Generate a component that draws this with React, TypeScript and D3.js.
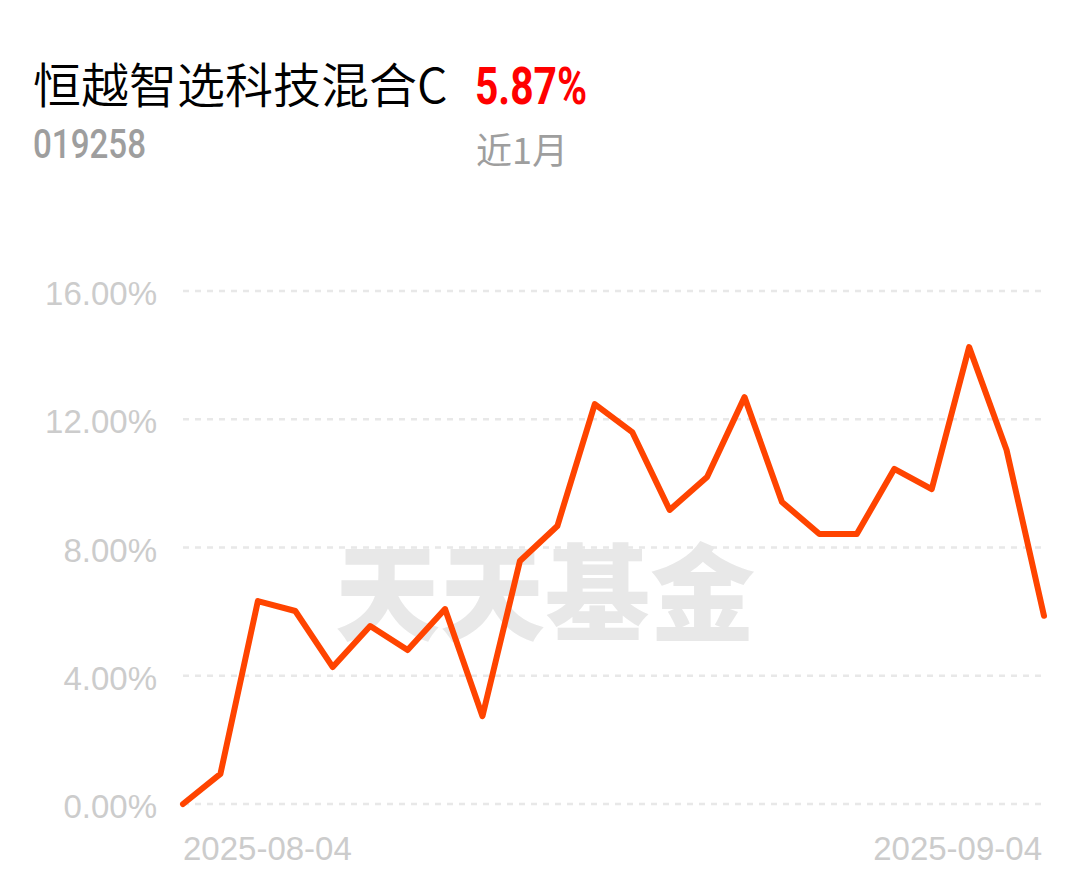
import React from "react";
import * as d3 from "d3";

const dates = [
  "2025-08-04", "2025-08-05", "2025-08-06", "2025-08-07", "2025-08-08",
  "2025-08-11", "2025-08-12", "2025-08-13", "2025-08-14", "2025-08-15",
  "2025-08-18", "2025-08-19", "2025-08-20", "2025-08-21", "2025-08-22",
  "2025-08-25", "2025-08-26", "2025-08-27", "2025-08-28", "2025-08-29",
  "2025-09-01", "2025-09-02", "2025-09-03", "2025-09-04",
];
const returns = [
  0, 0.94, 6.33, 6.02, 4.27, 5.55, 4.8, 6.08, 2.74, 7.58,
  8.67, 12.47, 11.6, 9.17, 10.2, 12.69, 9.42, 8.42, 8.42, 10.45,
  9.82, 14.25, 11.04, 5.87,
];
const yTicks = [0, 4, 8, 12, 16];
const xTickLabels = ["2025-08-04", "2025-09-04"];
const fundName = "恒越智选科技混合C";
const fundCode = "019258";
const periodReturn = "5.87%";
const periodLabel = "近1月";
const watermark = "天天基金";

const W = 1089;
const H = 881;

export default function App() {
  const x = d3.scalePoint<string>().domain(dates).range([183, 1044]);
  const y = d3.scaleLinear().domain([0, 16]).range([804, 291]);
  const line = d3
    .line<number>()
    .x((_, i) => x(dates[i]) as number)
    .y((d) => y(d));

  const cjk = "'Noto Sans CJK SC', 'Noto Sans', sans-serif";
  const latin = "'Liberation Sans', Arial, sans-serif";

  return (
    <svg
      width={W}
      height={H}
      style={{ position: "absolute", left: 0, top: 0, background: "#fff" }}
    >
      <text x={33} y={103} fontFamily={cjk} fontSize={48} fontWeight={350} fill="#000">
        {fundName}
      </text>
      <text
        x={475}
        y={104}
        fontFamily="Roboto, sans-serif"
        fontWeight={700}
        fontSize={51}
        fill="#ff0000"
        textLength={112}
        lengthAdjust="spacingAndGlyphs"
      >
        {periodReturn}
      </text>
      <text
        x={33}
        y={158}
        fontFamily="Roboto, sans-serif"
        fontWeight={500}
        fontSize={41}
        fill="#9e9e9e"
        textLength={113}
        lengthAdjust="spacingAndGlyphs"
      >
        {fundCode}
      </text>
      <text x={476} y={164} fontFamily={cjk} fontSize={36} fill="#9e9e9e">
        {periodLabel}
      </text>

      <text
        x={335}
        y={632}
        fontFamily={cjk}
        fontWeight={900}
        fontSize={105}
        fill="#e8e8e8"
        textLength={420}
        lengthAdjust="spacingAndGlyphs"
      >
        {watermark}
      </text>

      {yTicks.map((t) => (
        <g key={t}>
          <line
            x1={183}
            x2={1041}
            y1={y(t)}
            y2={y(t)}
            stroke="#e8e8e8"
            strokeWidth={2.5}
            strokeDasharray="6 6"
          />
          <text
            x={157}
            y={y(t) + 14}
            textAnchor="end"
            fontFamily={latin}
            fontSize={33}
            fill="#cccccc"
          >
            {t.toFixed(2) + "%"}
          </text>
        </g>
      ))}

      {xTickLabels.map((d, i) => (
        <text
          key={d}
          x={(x(d) as number) + (i === 0 ? 0 : -2)}
          y={860}
          textAnchor={i === 0 ? "start" : "end"}
          fontFamily={latin}
          fontSize={33}
          fill="#cccccc"
        >
          {d}
        </text>
      ))}

      <path
        d={line(returns) || ""}
        fill="none"
        stroke="#ff4400"
        strokeWidth={6}
        strokeLinejoin="round"
        strokeLinecap="round"
      />
    </svg>
  );
}
